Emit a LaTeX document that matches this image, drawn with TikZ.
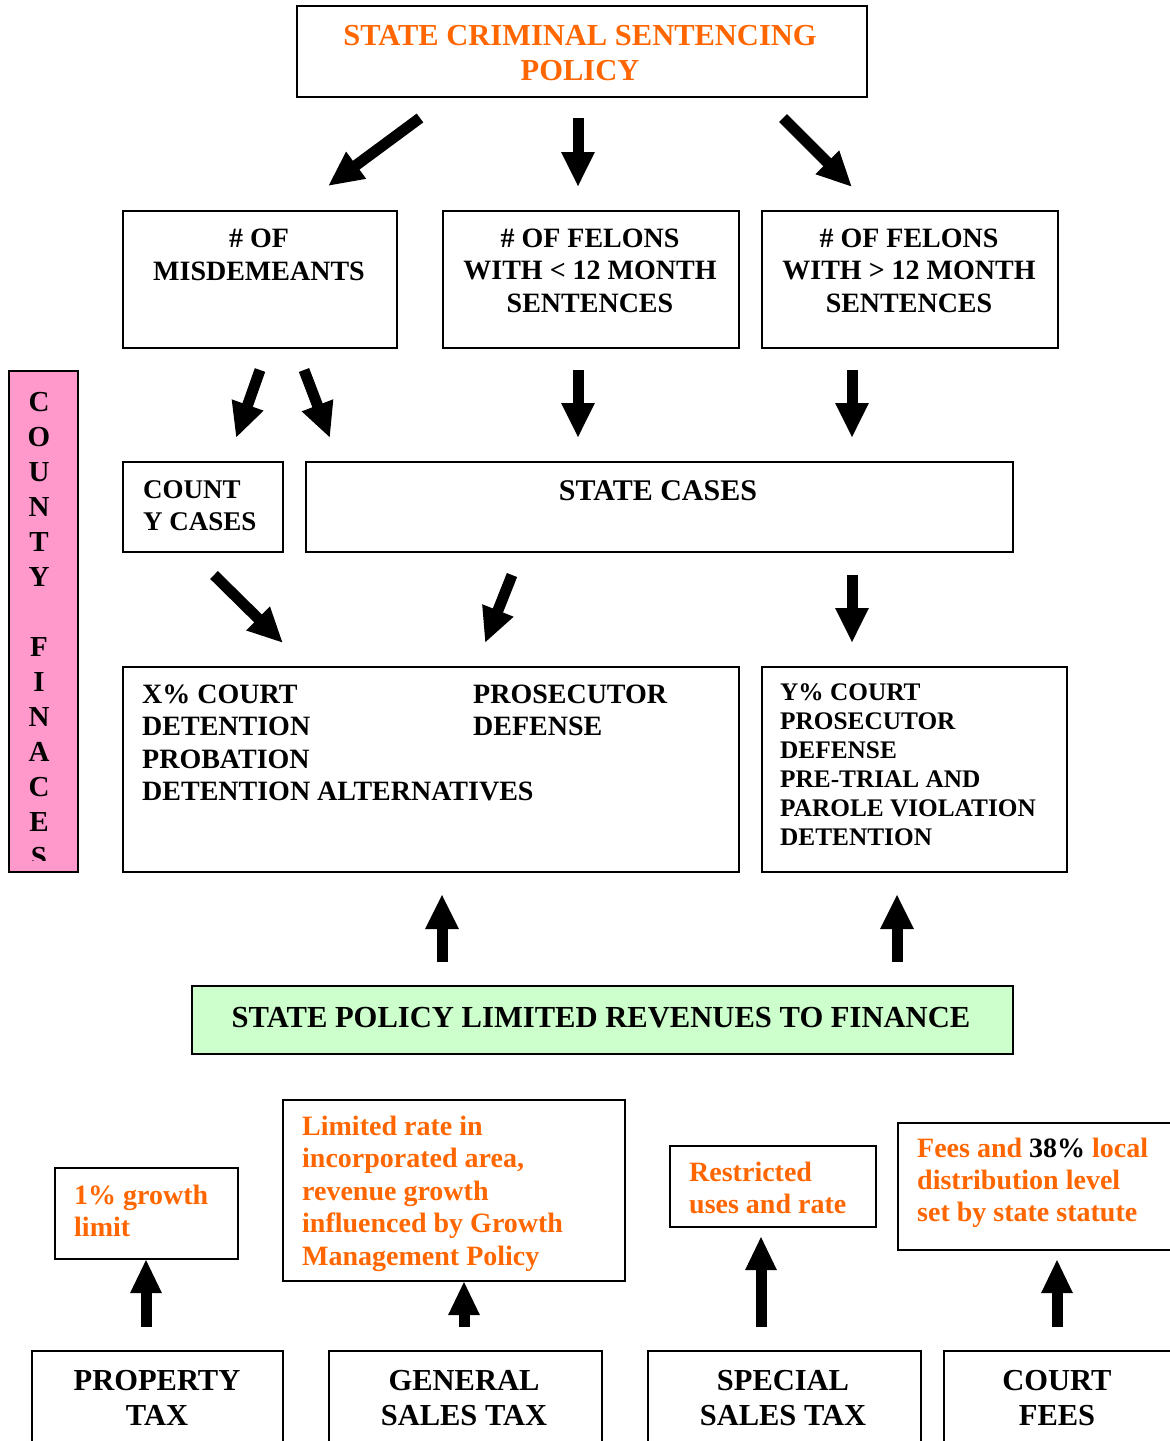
\documentclass[tikz,border=0pt]{standalone}
\usepackage{fontspec}
\setmainfont{Liberation Serif}
\usetikzlibrary{arrows.meta}
\definecolor{orng}{HTML}{FF6600}
\definecolor{pinkf}{HTML}{FF99CC}
\definecolor{greenf}{HTML}{CCFFCC}
\newcommand{\fs}[2]{\fontsize{#1}{#2}\selectfont\bfseries}
\begin{document}
\begin{tikzpicture}[x=1pt,y=-1pt,
  box/.style={draw=black, line width=2pt, inner sep=0pt, anchor=north west},
  txt/.style={inner sep=0pt, text=black},
  otxt/.style={inner sep=0pt, text=orng, align=left, anchor=base west, font=\fs{28}{32.5}},
  big/.style={line width=11pt, -{Triangle[width=31pt,length=35pt]}},
  bigs/.style={line width=11pt, -{Triangle[width=29pt,length=34pt]}}]
\useasboundingbox (0,0) rectangle (1170,1441);
\clip (0,0) rectangle (1170,1441);
% boxes
\node[box, minimum width=570pt, minimum height=91pt] (top) at (296,5) {};
\node[box, minimum width=274pt, minimum height=137pt] (misd) at (122,210) {};
\node[box, minimum width=296pt, minimum height=137pt] (fel1) at (442,210) {};
\node[box, minimum width=296pt, minimum height=137pt] (fel2) at (761,210) {};
\node[box, fill=pinkf, minimum width=69pt, minimum height=501pt] (pink) at (8,370) {};
\node[box, minimum width=160pt, minimum height=90pt] (cty) at (122,461) {};
\node[box, minimum width=707pt, minimum height=90pt] (stc) at (305,461) {};
\node[box, minimum width=616pt, minimum height=205pt] (xbox) at (122,666) {};
\node[box, minimum width=305pt, minimum height=205pt] (ybox) at (761,666) {};
\node[box, fill=greenf, minimum width=821pt, minimum height=68pt] (green) at (191,985) {};
\node[box, minimum width=183pt, minimum height=91pt] (grow) at (54,1167) {};
\node[box, minimum width=342pt, minimum height=181pt] (lim) at (282,1099) {};
\node[box, minimum width=206pt, minimum height=81pt] (restr) at (669,1145) {};
\node[box, minimum width=290pt, minimum height=127pt] (fees) at (897,1122) {};
\node[box, minimum width=251pt, minimum height=110pt] (prop) at (31,1350) {};
\node[box, minimum width=273pt, minimum height=110pt] (gen) at (328,1350) {};
\node[box, minimum width=273pt, minimum height=110pt] (spec) at (647,1350) {};
\node[box, minimum width=250pt, minimum height=110pt] (court) at (943,1350) {};
% texts (base anchor = baseline of last line)
\node[txt, text=orng, align=center, anchor=base, font=\fs{30.5}{35}] (ttop) at (580,80) {STATE CRIMINAL SENTENCING\\POLICY};
\node[txt, align=center, anchor=base, font=\fs{28}{33}] (tmisd) at (259,280) {\# OF\\MISDEMEANTS};
\node[txt, align=center, anchor=base, font=\fs{28}{32.5}] (tfel1) at (590,312) {\# OF FELONS\\WITH < 12 MONTH\\SENTENCES};
\node[txt, align=center, anchor=base, font=\fs{28}{32.5}] (tfel2) at (909,312) {\# OF FELONS\\WITH > 12 MONTH\\SENTENCES};
\begin{scope}
\clip (8,370) rectangle (77,860);
\node[txt, align=center, anchor=base, font=\fs{29}{35}] (tpink) at (39,866) {C\\O\\U\\N\\T\\Y\\[35pt]F\\I\\N\\A\\C\\E\\S};
\end{scope}
\node[txt, align=left, anchor=base west, font=\fs{27}{32}] (tcty) at (143,530) {COUNT\\Y CASES};
\node[txt, anchor=base, font=\fs{30}{35}] (tstc) at (658,500) {STATE CASES};
\node[txt, align=left, anchor=base west, font=\fs{28}{32.5}] (tx1) at (142,800.5) {X\% COURT\\DETENTION\\PROBATION\\DETENTION ALTERNATIVES};
\node[txt, align=left, anchor=base west, font=\fs{28}{32.5}] (tx2) at (473,735.5) {PROSECUTOR\\DEFENSE};
\node[txt, align=left, anchor=base west, font=\fs{25.3}{29}] (ty) at (780,845) {Y\% COURT\\PROSECUTOR\\DEFENSE\\PRE-TRIAL AND\\PAROLE VIOLATION\\DETENTION};
\node[txt, anchor=base, font=\fs{30.6}{35}] (tgreen) at (601,1027) {STATE POLICY LIMITED REVENUES TO FINANCE};
\node[otxt] (tgrow) at (74,1236.5) {1\% growth\\limit};
\node[otxt] (tlim) at (302,1265) {Limited rate in\\incorporated area,\\revenue growth\\influenced by Growth\\Management Policy};
\node[otxt] (trestr) at (689,1213.5) {Restricted\\uses and rate};
\node[otxt, font=\fs{28}{32}] (tfees) at (917,1221) {Fees and {\color{black}38\%} local\\distribution level\\set by state statute};
\node[txt, align=center, anchor=base, font=\fs{30.5}{35}] (tprop) at (157,1425) {PROPERTY\\TAX};
\node[txt, align=center, anchor=base, font=\fs{30.5}{35}] (tgen) at (464,1425) {GENERAL\\SALES TAX};
\node[txt, align=center, anchor=base, font=\fs{30.5}{35}] (tspec) at (783,1425) {SPECIAL\\SALES TAX};
\node[txt, align=center, anchor=base, font=\fs{30.5}{35}] (tcourt) at (1057,1425) {COURT\\FEES};
% arrow end points
\coordinate (a1s) at (420,118); \coordinate (a1e) at (328,186);
\coordinate (a2s) at (578,118); \coordinate (a2e) at (578,187);
\coordinate (a3s) at (783,118); \coordinate (a3e) at (852,187);
\coordinate (a4s) at (260,370); \coordinate (a4e) at (236,438);
\coordinate (a5s) at (304,370); \coordinate (a5e) at (330,438);
\coordinate (a6s) at (578,370); \coordinate (a6e) at (578,438);
\coordinate (a7s) at (852,370); \coordinate (a7e) at (852,438);
\coordinate (a8s) at (214,575); \coordinate (a8e) at (283,643);
\coordinate (a9s) at (512,575); \coordinate (a9e) at (485,643);
\coordinate (a10s) at (852,575); \coordinate (a10e) at (852,643);
\coordinate (a11s) at (442,962); \coordinate (a11e) at (442,894);
\coordinate (a12s) at (897,962); \coordinate (a12e) at (897,894);
\coordinate (a13s) at (146,1327); \coordinate (a13e) at (146,1259);
\coordinate (a14s) at (464,1327); \coordinate (a14e) at (464,1281);
\coordinate (a15s) at (761,1327); \coordinate (a15e) at (761,1236);
\coordinate (a16s) at (1057,1327); \coordinate (a16e) at (1057,1259);
\foreach \i in {1,...,12} {\draw[big] (a\i s) -- (a\i e);}
\foreach \i in {13,...,16} {\draw[bigs] (a\i s) -- (a\i e);}
\end{tikzpicture}
\end{document}
